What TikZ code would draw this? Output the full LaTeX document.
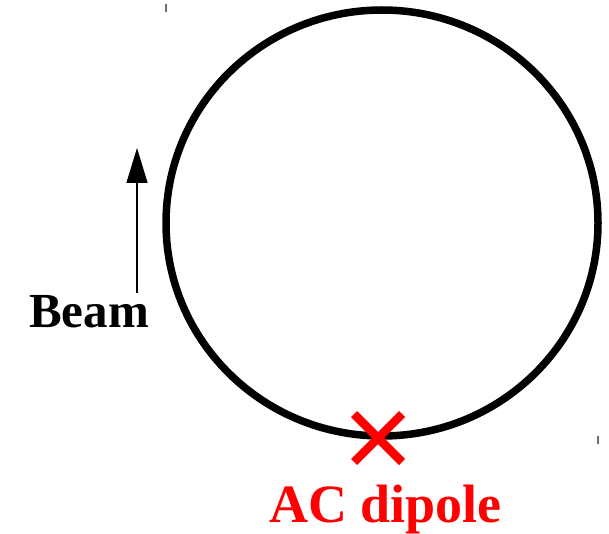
\documentclass[tikz,border=0pt]{standalone}
\usepackage{fontspec}
\setmainfont{Liberation Serif}
\usepackage{tikz}
\usetikzlibrary{arrows.meta, positioning}
\definecolor{DipoleRed}{RGB}{255, 0, 0}
\definecolor{TickGray}{RGB}{110, 110, 110}

\begin{document}
\begin{tikzpicture}[x=1pt, y=-1pt,
    ring/.style={draw=black, line width=7.5pt},
    label/.style={font=\fontsize{49}{56}\selectfont\bfseries, inner sep=0pt},
    tick/.style={draw=TickGray, line width=1.2pt}]
    \useasboundingbox (0, 0) rectangle (609, 534);

    % Ring
    \coordinate (ringc) at (382, 223);
    \draw[ring] (ringc) ellipse [x radius=216, y radius=213];

    % Corner ticks
    \coordinate (tl) at (166, 4);
    \coordinate (br) at (598, 436);
    \draw[tick] (tl) -- ++(0, 8);
    \draw[tick] (br) -- ++(0, 8);

    % Beam arrow
    \coordinate (tail) at (137, 293);
    \coordinate (head) at (137, 148);
    \draw[line width=1.4pt, -{Triangle[length=35pt, width=21pt]}] (tail) -- (head);
    \node[label, anchor=base west] (beam) at (29, 327) {Beam};

    % AC dipole
    \coordinate (kick) at (378, 438);
    \draw[DipoleRed, line width=8.5pt] ([shift={(-24, -24)}]kick) -- ([shift={(24, 24)}]kick)
        ([shift={(24, -24)}]kick) -- ([shift={(-24, 24)}]kick);
    \node[label, text=DipoleRed, font=\fontsize{54}{60}\selectfont\bfseries, anchor=base west] (dipole) at (269, 522) {AC dipole};
\end{tikzpicture}
\end{document}
